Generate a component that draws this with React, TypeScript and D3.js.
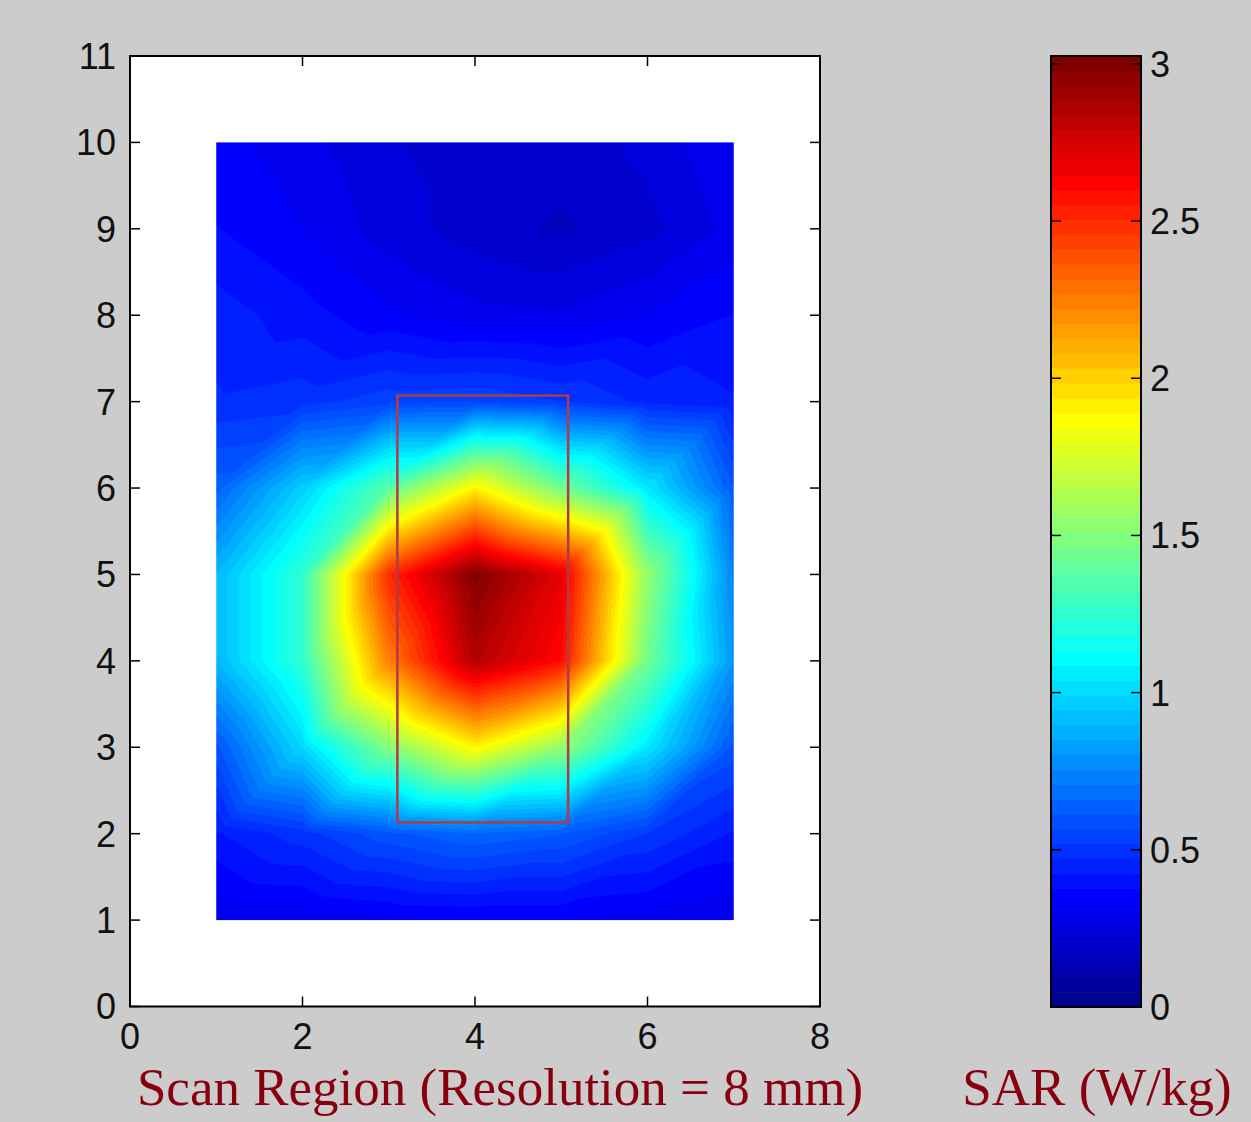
import { useMemo } from "react";
import * as d3 from "d3";

// measured SAR (W/kg) on the 7 x 10 scan grid, rows from y = 1 (bottom) to y = 10 (top)
const gridX = [1, 2, 3, 4, 5, 6, 7];
const gridY = [1, 2, 3, 4, 5, 6, 7, 8, 9, 10];
const sarRows = [
  [0.29, 0.3, 0.32, 0.33, 0.33, 0.31, 0.29],
  [0.42, 0.5, 0.6, 0.66, 0.62, 0.52, 0.42],
  [0.6, 1.0, 1.5, 1.9, 1.55, 1.05, 0.6],
  [0.9, 1.25, 2.25, 2.85, 2.6, 1.45, 0.8],
  [0.9, 1.25, 2.5, 3.0, 2.7, 1.55, 0.75],
  [0.64, 0.97, 1.38, 1.9, 1.45, 1.05, 0.62],
  [0.48, 0.5, 0.55, 0.56, 0.52, 0.46, 0.43],
  [0.45, 0.4, 0.34, 0.3, 0.29, 0.33, 0.38],
  [0.38, 0.33, 0.26, 0.21, 0.18, 0.22, 0.3],
  [0.35, 0.3, 0.24, 0.21, 0.21, 0.25, 0.33],
];

const xTicks = [0, 2, 4, 6, 8];
const yTicks = [0, 1, 2, 3, 4, 5, 6, 7, 8, 9, 10, 11];
const cbarTicks = [0, 0.5, 1, 1.5, 2, 2.5, 3];
const cMax = 3.025;

// highlighted region (data units)
const boxX = [3.1, 5.08];
const boxY = [2.13, 7.07];

const xLabel = "Scan Region (Resolution = 8 mm)";
const cLabel = "SAR (W/kg)";

const W = 1251;
const H = 1122;
const ax = { left: 130, right: 820, top: 56, bottom: 1006.5 };
const cb = { left: 1051, right: 1141, top: 56, bottom: 1007 };

// MATLAB jet(64)
function uf(k: number) {
  if (k < 1) return 0;
  if (k <= 16) return k / 16;
  if (k <= 31) return 1;
  if (k <= 47) return (48 - k) / 16;
  return 0;
}
const jet64 = d3.range(1, 65).map((i) => [uf(i - 24), uf(i - 8), uf(i + 8)]);

function colorIndex(v: number) {
  const i = Math.floor((v / cMax) * 64);
  return Math.max(0, Math.min(63, i));
}

export default function App() {
  const x = d3.scaleLinear().domain([0, 8]).range([ax.left, ax.right]);
  const y = d3.scaleLinear().domain([0, 11]).range([ax.bottom, ax.top]);
  const cy = d3.scaleLinear().domain([0, cMax]).range([cb.bottom, cb.top]);

  const x0 = x(gridX[0]);
  const x1 = x(gridX[gridX.length - 1]);
  const y0 = y(gridY[gridY.length - 1]);
  const y1 = y(gridY[0]);

  const href = useMemo(() => {
    const w = Math.round(x1 - x0);
    const h = Math.round(y1 - y0);
    const cv = document.createElement("canvas");
    cv.width = w;
    cv.height = h;
    const ctx = cv.getContext("2d")!;
    const img = ctx.createImageData(w, h);
    for (let py = 0; py < h; py++) {
      const dy = y.invert(y0 + py + 0.5);
      for (let px = 0; px < w; px++) {
        const dx = x.invert(x0 + px + 0.5);
        let i = Math.floor(dx - gridX[0]);
        let j = Math.floor(dy - gridY[0]);
        i = Math.max(0, Math.min(gridX.length - 2, i));
        j = Math.max(0, Math.min(gridY.length - 2, j));
        const fx = Math.max(0, Math.min(1, dx - gridX[i]));
        const fy = Math.max(0, Math.min(1, dy - gridY[j]));
        const v00 = sarRows[j][i];
        const v10 = sarRows[j][i + 1];
        const v01 = sarRows[j + 1][i];
        const v11 = sarRows[j + 1][i + 1];
        // two triangles per quad, like MATLAB's interp shading
        let v: number;
        if (fx >= fy) v = v00 + fx * (v10 - v00) + fy * (v11 - v10);
        else v = v00 + fy * (v01 - v00) + fx * (v11 - v01);
        const c = jet64[colorIndex(v)];
        const k = (py * w + px) * 4;
        img.data[k] = Math.round(c[0] * 255);
        img.data[k + 1] = Math.round(c[1] * 255);
        img.data[k + 2] = Math.round(c[2] * 255);
        img.data[k + 3] = 255;
      }
    }
    ctx.putImageData(img, 0, 0);
    return cv.toDataURL();
  }, []);

  const tickLen = 10;
  const tickFont = { fontFamily: "'Liberation Sans', Arial, sans-serif", fontSize: 36, fill: "#111" };
  const labelFont = { fontFamily: "'Liberation Serif', 'Times New Roman', serif", fontSize: 53, fill: "#880010" };

  const bandH = (cb.bottom - cb.top) / 64;

  return (
    <svg width={W} height={H} style={{ position: "absolute", left: 0, top: 0 }}>
      <rect width={W} height={H} fill="#cccccc" />

      {/* main axes */}
      <rect x={ax.left} y={ax.top} width={ax.right - ax.left} height={ax.bottom - ax.top} fill="#ffffff" />
      <image href={href} x={x0} y={y0} width={x1 - x0} height={y1 - y0} preserveAspectRatio="none" />
      <rect
        x={x(boxX[0])}
        y={y(boxY[1])}
        width={x(boxX[1]) - x(boxX[0])}
        height={y(boxY[0]) - y(boxY[1])}
        fill="none"
        stroke="#b23a48"
        strokeWidth={2.5}
      />
      <rect
        x={ax.left}
        y={ax.top}
        width={ax.right - ax.left}
        height={ax.bottom - ax.top}
        fill="none"
        stroke="#000"
        strokeWidth={2}
      />
      {xTicks.map((t) => (
        <g key={"xt" + t}>
          <line x1={x(t)} x2={x(t)} y1={ax.bottom} y2={ax.bottom - tickLen} stroke="#000" strokeWidth={1.5} />
          <line x1={x(t)} x2={x(t)} y1={ax.top} y2={ax.top + tickLen} stroke="#000" strokeWidth={1.5} />
          <text x={x(t)} y={1049} textAnchor="middle" {...tickFont}>
            {t}
          </text>
        </g>
      ))}
      {yTicks.map((t) => (
        <g key={"yt" + t}>
          <line x1={ax.left} x2={ax.left + tickLen} y1={y(t)} y2={y(t)} stroke="#000" strokeWidth={1.5} />
          <line x1={ax.right} x2={ax.right - tickLen} y1={y(t)} y2={y(t)} stroke="#000" strokeWidth={1.5} />
          <text x={116} y={y(t)} dy="0.36em" textAnchor="end" {...tickFont}>
            {t}
          </text>
        </g>
      ))}

      {/* colorbar */}
      {jet64.map((c, i) => (
        <rect
          key={"cb" + i}
          x={cb.left}
          y={cb.bottom - (i + 1) * bandH}
          width={cb.right - cb.left}
          height={bandH + 0.6}
          fill={d3.rgb(c[0] * 255, c[1] * 255, c[2] * 255).formatHex()}
        />
      ))}
      <rect
        x={cb.left}
        y={cb.top}
        width={cb.right - cb.left}
        height={cb.bottom - cb.top}
        fill="none"
        stroke="#000"
        strokeWidth={2}
      />
      {cbarTicks.map((t) => (
        <g key={"ct" + t}>
          <line x1={cb.left} x2={cb.left + tickLen} y1={cy(t)} y2={cy(t)} stroke="#000" strokeWidth={1.5} />
          <line x1={cb.right} x2={cb.right - tickLen} y1={cy(t)} y2={cy(t)} stroke="#000" strokeWidth={1.5} />
          <text x={1150} y={cy(t)} dy="0.36em" textAnchor="start" {...tickFont}>
            {t}
          </text>
        </g>
      ))}

      <text x={500} y={1105} textAnchor="middle" {...labelFont}>
        {xLabel}
      </text>
      <text x={1097} y={1105} textAnchor="middle" {...labelFont}>
        {cLabel}
      </text>
    </svg>
  );
}
